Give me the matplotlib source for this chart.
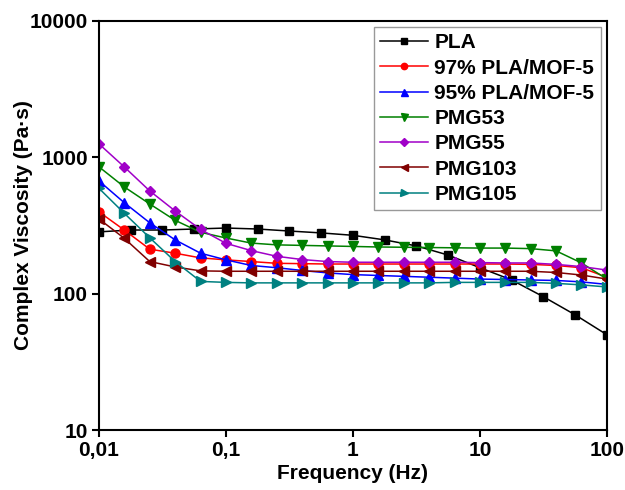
import matplotlib
matplotlib.use("Agg")
import matplotlib.pyplot as plt

# ============================================================
# Data
# ============================================================

freq_pla = [0.01, 0.0178, 0.0316, 0.0562, 0.1, 0.178, 0.316, 0.562, 1,
            1.78, 3.16, 5.62, 10, 17.8, 31.6, 56.2, 100]
freq_blend = [0.01, 0.0158, 0.0251, 0.0398, 0.0631, 0.1, 0.158, 0.251, 0.398,
              0.631, 1, 1.58, 2.51, 3.98, 6.31, 10, 15.8, 25.1, 39.8, 63.1, 100]

visc_pla = [284, 293, 293, 298, 303, 298, 288, 279, 268, 248, 224, 192,
            155, 126, 95, 70, 50]
visc_97 = [398, 293, 212, 198, 183, 177, 172, 167, 166, 165, 165, 165, 165,
           165, 165, 165, 165, 164, 161, 155, 132]
visc_95 = [671, 465, 331, 248, 198, 177, 161, 155, 148, 142, 138, 136, 134,
           132, 130, 128, 127, 126, 125, 122, 117]
visc_pmg53 = [851, 607, 455, 345, 282, 256, 235, 228, 226, 224, 222, 220,
              219, 218, 217, 216, 216, 214, 206, 168, 128]
visc_pmg55 = [1254, 851, 567, 404, 296, 234, 207, 188, 178, 172, 170, 170,
              170, 170, 170, 169, 168, 168, 164, 158, 149]
visc_pmg103 = [353, 255, 172, 157, 147, 146, 146, 146, 146, 146, 146, 146,
               146, 146, 146, 146, 146, 146, 143, 137, 128]
visc_pmg105 = [592, 389, 257, 172, 123, 121, 120, 120, 120, 120, 120, 120,
               120, 120, 121, 121, 121, 121, 119, 116, 112]

x_ticks = [0.01, 0.1, 1, 10, 100]
x_tick_labels = ["0,01", "0,1", "1", "10", "100"]
y_ticks = [10, 100, 1000, 10000]
y_tick_labels = ["10", "100", "1000", "10000"]

# ============================================================
# Style
# ============================================================

plt.rcParams.update({
    "font.family": ["Liberation Sans", "DejaVu Sans"],
    "font.weight": "bold",
    "font.size": 15,
    "axes.linewidth": 1.5,
})

series = [
    ("PLA", freq_pla, visc_pla, "#000000", "s", 5.5),
    ("97% PLA/MOF-5", freq_blend, visc_97, "#FF0000", "o", 6.5),
    ("95% PLA/MOF-5", freq_blend, visc_95, "#0000FF", "^", 7.2),
    ("PMG53", freq_blend, visc_pmg53, "#008000", "v", 7.2),
    ("PMG55", freq_blend, visc_pmg55, "#A000C8", "D", 5.2),
    ("PMG103", freq_blend, visc_pmg103, "#800000", "<", 7.2),
    ("PMG105", freq_blend, visc_pmg105, "#008080", ">", 7.2),
]

# ============================================================
# Plot
# ============================================================

fig = plt.figure(figsize=(6.25, 4.9), dpi=100)
ax = fig.add_axes([0.1584, 0.1224, 0.8126, 0.8348])

for label, fx, fy, color, marker, ms in series:
    ax.plot(fx, fy, color=color, marker=marker, markersize=ms,
            linewidth=1.1, label=label)

ax.set_xscale("log")
ax.set_yscale("log")
ax.set_xlim(0.01, 100)
ax.set_ylim(10, 10000)

ax.set_xticks(x_ticks)
ax.set_xticklabels(x_tick_labels)
ax.set_yticks(y_ticks)
ax.set_yticklabels(y_tick_labels)
ax.minorticks_off()
ax.tick_params(direction="out", length=5, width=1.5, pad=3)

ax.set_xlabel("Frequency (Hz)", fontweight="bold", labelpad=3)
ax.set_ylabel("Complex Viscosity (Pa·s)", fontweight="bold")
# label sits closer to the axis than the widest tick label, as in the original
ax.yaxis.set_label_coords(-0.13, 0.5)

leg = ax.legend(loc="upper right", bbox_to_anchor=(1.0, 1.0),
                borderaxespad=0.3, fancybox=False, frameon=True,
                edgecolor="#808080", handlelength=2.3, handletextpad=0.3,
                labelspacing=0.3, markerscale=0.7, borderpad=0.3)
leg.get_frame().set_linewidth(1.0)

fig.savefig("out.png", dpi=100)
plt.close(fig)
